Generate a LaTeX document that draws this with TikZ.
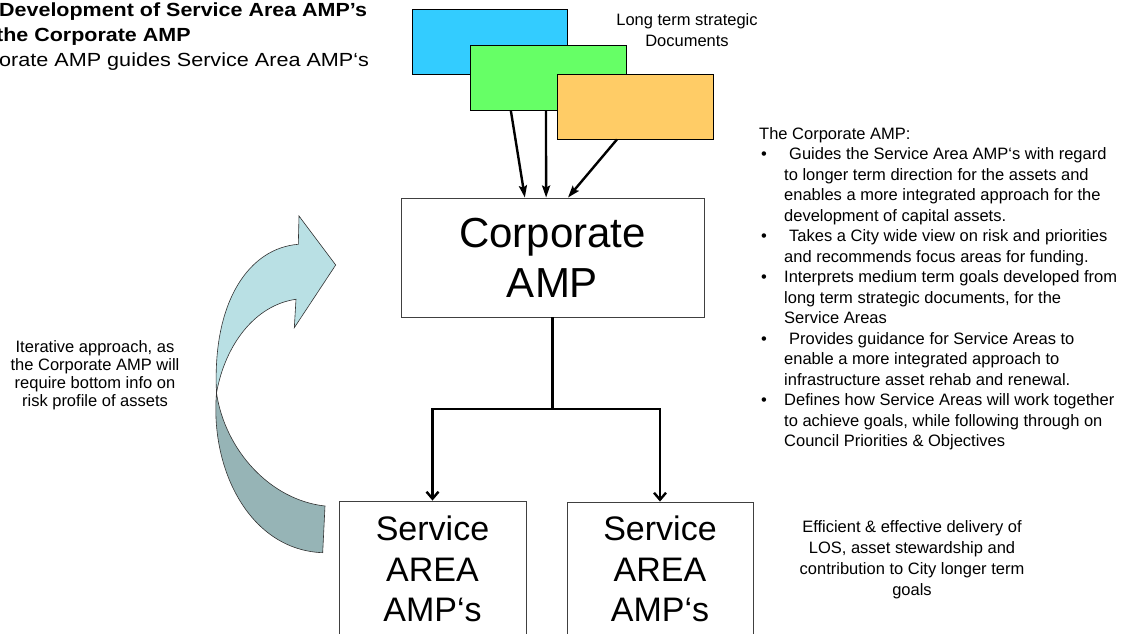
\documentclass[tikz,border=0pt]{standalone}
\usepackage{fontspec}
\setmainfont{Liberation Sans}
\usetikzlibrary{arrows.meta,calc}
\definecolor{cBlue}{RGB}{51,204,255}
\definecolor{cGreen}{RGB}{102,255,102}
\definecolor{cOrange}{RGB}{255,204,102}
\definecolor{cLight}{RGB}{185,224,228}
\definecolor{cDark}{RGB}{150,180,182}
\begin{document}
\begin{tikzpicture}[x=1pt,y=-1pt,
  docbox/.style={draw=black, line width=0.9pt, minimum width=156pt, minimum height=65pt, inner sep=0pt},
  ampbox/.style={draw=black!75, line width=0.9pt, inner sep=0pt},
  plain/.style={inner sep=0pt, align=center},
  small/.style={font=\fontsize{16.5}{20.5}\selectfont},
  titletext/.style={inner sep=0pt, anchor=base west, font=\fontsize{19}{22}\selectfont},
  link/.style={line width=2.4pt, -{Stealth[length=12pt,width=8pt,inset=2pt]}},
  tree/.style={line width=2.4pt},
  treearr/.style={line width=2.4pt, -{Straight Barb[length=7pt,width=12pt]}},
  ribbon/.style={draw=black!80, line width=0.6pt}
]
\useasboundingbox (0,0) rectangle (1127,634);

% title
\node[titletext] (t1) at (-1,17) {\scalebox{1.13}[1]{\bfseries Development of Service Area AMP’s}};
\node[titletext] (t2) at (-4,41.5) {\scalebox{1.13}[1]{\bfseries the Corporate AMP}};
\node[titletext] (t3) at (-1,66.5) {\scalebox{1.137}[1]{orate AMP guides Service Area AMP‘s}};

% strategic documents
\node[docbox, fill=cBlue, minimum width=155pt] (blue) at (489.5,41.5) {};
\node[docbox, fill=cGreen] (green) at (548,77.5) {};
\node[docbox, fill=cOrange] (orange) at (635,106.5) {};
\node[plain, anchor=north, font=\fontsize{16.5}{21}\selectfont] (ltsd) at (687,13) {Long term strategic\\Documents};

% corporate AMP
\node[ampbox, minimum width=303pt, minimum height=119pt, align=center, font=\fontsize{42}{50}\selectfont] (corp) at (552.5,257.5) {Corporate\\AMP};

\draw[link] ($(green.south west)!0.263!(green.south east)$) -- ($(corp.north west)!0.409!(corp.north east)$);
\draw[link] ($(green.south west)!0.487!(green.south east)$) -- ($(corp.north west)!0.479!(corp.north east)$);
\draw[link] ($(orange.south west)!0.385!(orange.south east)$) -- ($(corp.north west)!0.551!(corp.north east)$);

% service area boxes
\node[ampbox, minimum width=187pt, minimum height=159pt] (sa1) at (432.5,580.5) {};
\node[ampbox, minimum width=186pt, minimum height=158pt] (sa2) at (660,581) {};
\node[plain, anchor=north, font=\fontsize{34}{40.5}\selectfont] (sa1t) at (432.5,516) {Service\\AREA\\AMP‘s};
\node[plain, anchor=north, font=\fontsize{34}{40.5}\selectfont] (sa2t) at (660,516) {Service\\AREA\\AMP‘s};

\coordinate (j) at (552.5,409);
\draw[tree] (corp.south) -- (j);
\draw[treearr] (j) -| (sa1.north);
\draw[treearr] (j) -| (sa2.north);

% iterative ribbon arrow
\path[ribbon, fill=cDark] (216.5,393) .. controls (210,470) and (250,550) .. (322.7,552.7)
  -- (325,506) .. controls (270,500) and (225,450) .. (216.5,393) -- cycle;
\path[ribbon, fill=cLight] (216.5,393) .. controls (212,300) and (250,248) .. (298.3,244.3)
  -- (299,216) -- (335.7,265) -- (294.3,327.7) -- (296,299.3)
  .. controls (255,305) and (225,345) .. (216.5,393) -- cycle;

\node[plain, anchor=north, font=\fontsize{16.5}{18}\selectfont] (iter) at (95,340) {Iterative approach, as\\the Corporate AMP will\\require bottom info on\\risk profile of assets};

% description
\node[inner sep=0pt, anchor=north west, align=left, small] (desc) at (759,127) {The Corporate AMP:\\
\hspace*{2pt}\makebox[23pt][l]{•}\hspace*{5pt}Guides the Service Area AMP‘s with regard\\
\hspace*{25pt}to longer term direction for the assets and\\
\hspace*{25pt}enables a more integrated approach for the\\
\hspace*{25pt}development of capital assets.\\
\hspace*{2pt}\makebox[23pt][l]{•}\hspace*{5pt}Takes a City wide view on risk and priorities\\
\hspace*{25pt}and recommends focus areas for funding.\\
\hspace*{2pt}\makebox[23pt][l]{•}Interprets medium term goals developed from\\
\hspace*{25pt}long term strategic documents, for the\\
\hspace*{25pt}Service Areas\\
\hspace*{2pt}\makebox[23pt][l]{•}\hspace*{5pt}Provides guidance for Service Areas to\\
\hspace*{25pt}enable a more integrated approach to\\
\hspace*{25pt}infrastructure asset rehab and renewal.\\
\hspace*{2pt}\makebox[23pt][l]{•}Defines how Service Areas will work together\\
\hspace*{25pt}to achieve goals, while following through on\\
\hspace*{25pt}Council Priorities \& Objectives};

\node[plain, anchor=north, font=\fontsize{16.5}{21}\selectfont] (eff) at (912,520) {Efficient \& effective delivery of\\LOS, asset stewardship and\\contribution to City longer term\\goals};
\end{tikzpicture}
\end{document}
